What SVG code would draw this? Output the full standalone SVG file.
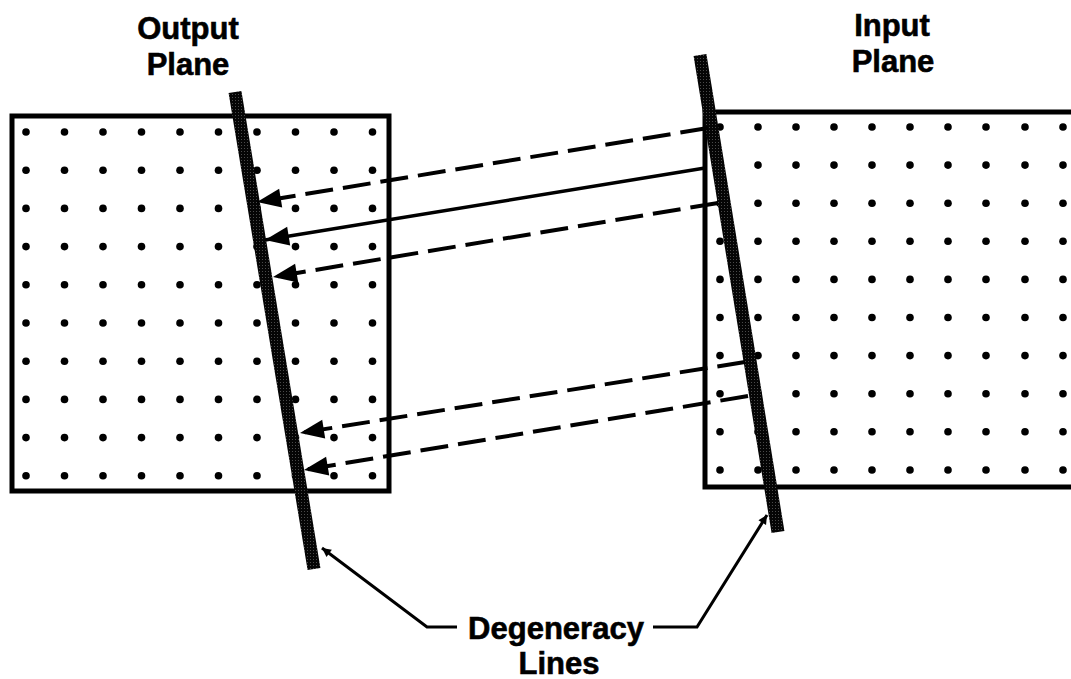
<svg xmlns="http://www.w3.org/2000/svg" width="1071" height="679" viewBox="0 0 1071 679">
<style>
  .frame { fill: none; stroke: #000; stroke-width: 5; }
  .dot { fill: #000; }
  .lbl { font-family: "Liberation Sans", Arial, sans-serif; font-weight: bold; font-size: 31px; fill: #000; text-anchor: middle; stroke: #000; stroke-width: 0.6; }
  .ray { fill: none; stroke: #000; stroke-width: 4; marker-end: url(#ah); }
  .dash { stroke-dasharray: 28 10; }
  .solid { stroke-width: 3.5; }
  .deg { fill: none; stroke: url(#stip); stroke-width: 13; stroke-linecap: butt; }
  .lead { fill: none; stroke: #000; stroke-width: 3; }
</style>
<defs>
  <pattern id="stip" width="3" height="3" patternUnits="userSpaceOnUse">
    <rect width="3" height="3" fill="#050505"/>
    <rect x="1" y="1" width="1" height="1" fill="#4a4a4a"/>
  </pattern>
  <marker id="ah" viewBox="-25 -11 26 22" refX="0" refY="0" markerWidth="26" markerHeight="22" markerUnits="userSpaceOnUse" orient="auto">
    <path d="M0,0 L-24,-9.5 L-24,9.5 z" fill="#000"/>
  </marker>
  <marker id="sh" viewBox="-10 -6 11 12" refX="0" refY="0" markerWidth="11" markerHeight="12" markerUnits="userSpaceOnUse" orient="auto">
    <path d="M0,0 L-9,-4.5 L-9,4.5 z" fill="#000"/>
  </marker>
</defs>
<rect width="1071" height="679" fill="#fff"/>

<g id="output-plane">
  <rect class="frame" x="12" y="116" width="377" height="375"/>
  <g id="output-dots">
    <circle class="dot" cx="26" cy="132" r="3.8"/><circle class="dot" cx="64.5" cy="132" r="3.8"/><circle class="dot" cx="103" cy="132" r="3.8"/><circle class="dot" cx="141.5" cy="132" r="3.8"/><circle class="dot" cx="180" cy="132" r="3.8"/><circle class="dot" cx="218.5" cy="132" r="3.8"/><circle class="dot" cx="257" cy="132" r="3.8"/><circle class="dot" cx="295.5" cy="132" r="3.8"/><circle class="dot" cx="334" cy="132" r="3.8"/><circle class="dot" cx="372.5" cy="132" r="3.8"/>
    <circle class="dot" cx="26" cy="170.2" r="3.8"/><circle class="dot" cx="64.5" cy="170.2" r="3.8"/><circle class="dot" cx="103" cy="170.2" r="3.8"/><circle class="dot" cx="141.5" cy="170.2" r="3.8"/><circle class="dot" cx="180" cy="170.2" r="3.8"/><circle class="dot" cx="218.5" cy="170.2" r="3.8"/><circle class="dot" cx="257" cy="170.2" r="3.8"/><circle class="dot" cx="295.5" cy="170.2" r="3.8"/><circle class="dot" cx="334" cy="170.2" r="3.8"/><circle class="dot" cx="372.5" cy="170.2" r="3.8"/>
    <circle class="dot" cx="26" cy="208.4" r="3.8"/><circle class="dot" cx="64.5" cy="208.4" r="3.8"/><circle class="dot" cx="103" cy="208.4" r="3.8"/><circle class="dot" cx="141.5" cy="208.4" r="3.8"/><circle class="dot" cx="180" cy="208.4" r="3.8"/><circle class="dot" cx="218.5" cy="208.4" r="3.8"/><circle class="dot" cx="257" cy="208.4" r="3.8"/><circle class="dot" cx="295.5" cy="208.4" r="3.8"/><circle class="dot" cx="334" cy="208.4" r="3.8"/><circle class="dot" cx="372.5" cy="208.4" r="3.8"/>
    <circle class="dot" cx="26" cy="246.6" r="3.8"/><circle class="dot" cx="64.5" cy="246.6" r="3.8"/><circle class="dot" cx="103" cy="246.6" r="3.8"/><circle class="dot" cx="141.5" cy="246.6" r="3.8"/><circle class="dot" cx="180" cy="246.6" r="3.8"/><circle class="dot" cx="218.5" cy="246.6" r="3.8"/><circle class="dot" cx="257" cy="246.6" r="3.8"/><circle class="dot" cx="295.5" cy="246.6" r="3.8"/><circle class="dot" cx="334" cy="246.6" r="3.8"/><circle class="dot" cx="372.5" cy="246.6" r="3.8"/>
    <circle class="dot" cx="26" cy="284.8" r="3.8"/><circle class="dot" cx="64.5" cy="284.8" r="3.8"/><circle class="dot" cx="103" cy="284.8" r="3.8"/><circle class="dot" cx="141.5" cy="284.8" r="3.8"/><circle class="dot" cx="180" cy="284.8" r="3.8"/><circle class="dot" cx="218.5" cy="284.8" r="3.8"/><circle class="dot" cx="257" cy="284.8" r="3.8"/><circle class="dot" cx="295.5" cy="284.8" r="3.8"/><circle class="dot" cx="334" cy="284.8" r="3.8"/><circle class="dot" cx="372.5" cy="284.8" r="3.8"/>
    <circle class="dot" cx="26" cy="323" r="3.8"/><circle class="dot" cx="64.5" cy="323" r="3.8"/><circle class="dot" cx="103" cy="323" r="3.8"/><circle class="dot" cx="141.5" cy="323" r="3.8"/><circle class="dot" cx="180" cy="323" r="3.8"/><circle class="dot" cx="218.5" cy="323" r="3.8"/><circle class="dot" cx="257" cy="323" r="3.8"/><circle class="dot" cx="295.5" cy="323" r="3.8"/><circle class="dot" cx="334" cy="323" r="3.8"/><circle class="dot" cx="372.5" cy="323" r="3.8"/>
    <circle class="dot" cx="26" cy="361.2" r="3.8"/><circle class="dot" cx="64.5" cy="361.2" r="3.8"/><circle class="dot" cx="103" cy="361.2" r="3.8"/><circle class="dot" cx="141.5" cy="361.2" r="3.8"/><circle class="dot" cx="180" cy="361.2" r="3.8"/><circle class="dot" cx="218.5" cy="361.2" r="3.8"/><circle class="dot" cx="257" cy="361.2" r="3.8"/><circle class="dot" cx="295.5" cy="361.2" r="3.8"/><circle class="dot" cx="334" cy="361.2" r="3.8"/><circle class="dot" cx="372.5" cy="361.2" r="3.8"/>
    <circle class="dot" cx="26" cy="399.4" r="3.8"/><circle class="dot" cx="64.5" cy="399.4" r="3.8"/><circle class="dot" cx="103" cy="399.4" r="3.8"/><circle class="dot" cx="141.5" cy="399.4" r="3.8"/><circle class="dot" cx="180" cy="399.4" r="3.8"/><circle class="dot" cx="218.5" cy="399.4" r="3.8"/><circle class="dot" cx="257" cy="399.4" r="3.8"/><circle class="dot" cx="295.5" cy="399.4" r="3.8"/><circle class="dot" cx="334" cy="399.4" r="3.8"/><circle class="dot" cx="372.5" cy="399.4" r="3.8"/>
    <circle class="dot" cx="26" cy="437.6" r="3.8"/><circle class="dot" cx="64.5" cy="437.6" r="3.8"/><circle class="dot" cx="103" cy="437.6" r="3.8"/><circle class="dot" cx="141.5" cy="437.6" r="3.8"/><circle class="dot" cx="180" cy="437.6" r="3.8"/><circle class="dot" cx="218.5" cy="437.6" r="3.8"/><circle class="dot" cx="257" cy="437.6" r="3.8"/><circle class="dot" cx="295.5" cy="437.6" r="3.8"/><circle class="dot" cx="334" cy="437.6" r="3.8"/><circle class="dot" cx="372.5" cy="437.6" r="3.8"/>
    <circle class="dot" cx="26" cy="475.8" r="3.8"/><circle class="dot" cx="64.5" cy="475.8" r="3.8"/><circle class="dot" cx="103" cy="475.8" r="3.8"/><circle class="dot" cx="141.5" cy="475.8" r="3.8"/><circle class="dot" cx="180" cy="475.8" r="3.8"/><circle class="dot" cx="218.5" cy="475.8" r="3.8"/><circle class="dot" cx="257" cy="475.8" r="3.8"/><circle class="dot" cx="295.5" cy="475.8" r="3.8"/><circle class="dot" cx="334" cy="475.8" r="3.8"/><circle class="dot" cx="372.5" cy="475.8" r="3.8"/>
  </g>
  <text class="lbl" x="188" y="39">Output</text>
  <text class="lbl" x="188" y="75">Plane</text>
</g>

<g id="input-plane">
  <path class="frame" d="M1080,112 H705 V487 H1080"/>
  <g id="input-dots">
    <circle class="dot" cx="720" cy="127" r="3.8"/><circle class="dot" cx="758" cy="127" r="3.8"/><circle class="dot" cx="796" cy="127" r="3.8"/><circle class="dot" cx="834" cy="127" r="3.8"/><circle class="dot" cx="872" cy="127" r="3.8"/><circle class="dot" cx="910" cy="127" r="3.8"/><circle class="dot" cx="948" cy="127" r="3.8"/><circle class="dot" cx="986" cy="127" r="3.8"/><circle class="dot" cx="1025" cy="127" r="3.8"/><circle class="dot" cx="1063" cy="127" r="3.8"/>
    <circle class="dot" cx="720" cy="165.1" r="3.8"/><circle class="dot" cx="758" cy="165.1" r="3.8"/><circle class="dot" cx="796" cy="165.1" r="3.8"/><circle class="dot" cx="834" cy="165.1" r="3.8"/><circle class="dot" cx="872" cy="165.1" r="3.8"/><circle class="dot" cx="910" cy="165.1" r="3.8"/><circle class="dot" cx="948" cy="165.1" r="3.8"/><circle class="dot" cx="986" cy="165.1" r="3.8"/><circle class="dot" cx="1025" cy="165.1" r="3.8"/><circle class="dot" cx="1063" cy="165.1" r="3.8"/>
    <circle class="dot" cx="720" cy="203.2" r="3.8"/><circle class="dot" cx="758" cy="203.2" r="3.8"/><circle class="dot" cx="796" cy="203.2" r="3.8"/><circle class="dot" cx="834" cy="203.2" r="3.8"/><circle class="dot" cx="872" cy="203.2" r="3.8"/><circle class="dot" cx="910" cy="203.2" r="3.8"/><circle class="dot" cx="948" cy="203.2" r="3.8"/><circle class="dot" cx="986" cy="203.2" r="3.8"/><circle class="dot" cx="1025" cy="203.2" r="3.8"/><circle class="dot" cx="1063" cy="203.2" r="3.8"/>
    <circle class="dot" cx="720" cy="241.3" r="3.8"/><circle class="dot" cx="758" cy="241.3" r="3.8"/><circle class="dot" cx="796" cy="241.3" r="3.8"/><circle class="dot" cx="834" cy="241.3" r="3.8"/><circle class="dot" cx="872" cy="241.3" r="3.8"/><circle class="dot" cx="910" cy="241.3" r="3.8"/><circle class="dot" cx="948" cy="241.3" r="3.8"/><circle class="dot" cx="986" cy="241.3" r="3.8"/><circle class="dot" cx="1025" cy="241.3" r="3.8"/><circle class="dot" cx="1063" cy="241.3" r="3.8"/>
    <circle class="dot" cx="720" cy="279.4" r="3.8"/><circle class="dot" cx="758" cy="279.4" r="3.8"/><circle class="dot" cx="796" cy="279.4" r="3.8"/><circle class="dot" cx="834" cy="279.4" r="3.8"/><circle class="dot" cx="872" cy="279.4" r="3.8"/><circle class="dot" cx="910" cy="279.4" r="3.8"/><circle class="dot" cx="948" cy="279.4" r="3.8"/><circle class="dot" cx="986" cy="279.4" r="3.8"/><circle class="dot" cx="1025" cy="279.4" r="3.8"/><circle class="dot" cx="1063" cy="279.4" r="3.8"/>
    <circle class="dot" cx="720" cy="317.5" r="3.8"/><circle class="dot" cx="758" cy="317.5" r="3.8"/><circle class="dot" cx="796" cy="317.5" r="3.8"/><circle class="dot" cx="834" cy="317.5" r="3.8"/><circle class="dot" cx="872" cy="317.5" r="3.8"/><circle class="dot" cx="910" cy="317.5" r="3.8"/><circle class="dot" cx="948" cy="317.5" r="3.8"/><circle class="dot" cx="986" cy="317.5" r="3.8"/><circle class="dot" cx="1025" cy="317.5" r="3.8"/><circle class="dot" cx="1063" cy="317.5" r="3.8"/>
    <circle class="dot" cx="720" cy="355.6" r="3.8"/><circle class="dot" cx="758" cy="355.6" r="3.8"/><circle class="dot" cx="796" cy="355.6" r="3.8"/><circle class="dot" cx="834" cy="355.6" r="3.8"/><circle class="dot" cx="872" cy="355.6" r="3.8"/><circle class="dot" cx="910" cy="355.6" r="3.8"/><circle class="dot" cx="948" cy="355.6" r="3.8"/><circle class="dot" cx="986" cy="355.6" r="3.8"/><circle class="dot" cx="1025" cy="355.6" r="3.8"/><circle class="dot" cx="1063" cy="355.6" r="3.8"/>
    <circle class="dot" cx="720" cy="393.7" r="3.8"/><circle class="dot" cx="758" cy="393.7" r="3.8"/><circle class="dot" cx="796" cy="393.7" r="3.8"/><circle class="dot" cx="834" cy="393.7" r="3.8"/><circle class="dot" cx="872" cy="393.7" r="3.8"/><circle class="dot" cx="910" cy="393.7" r="3.8"/><circle class="dot" cx="948" cy="393.7" r="3.8"/><circle class="dot" cx="986" cy="393.7" r="3.8"/><circle class="dot" cx="1025" cy="393.7" r="3.8"/><circle class="dot" cx="1063" cy="393.7" r="3.8"/>
    <circle class="dot" cx="720" cy="431.8" r="3.8"/><circle class="dot" cx="758" cy="431.8" r="3.8"/><circle class="dot" cx="796" cy="431.8" r="3.8"/><circle class="dot" cx="834" cy="431.8" r="3.8"/><circle class="dot" cx="872" cy="431.8" r="3.8"/><circle class="dot" cx="910" cy="431.8" r="3.8"/><circle class="dot" cx="948" cy="431.8" r="3.8"/><circle class="dot" cx="986" cy="431.8" r="3.8"/><circle class="dot" cx="1025" cy="431.8" r="3.8"/><circle class="dot" cx="1063" cy="431.8" r="3.8"/>
    <circle class="dot" cx="720" cy="470" r="3.8"/><circle class="dot" cx="758" cy="470" r="3.8"/><circle class="dot" cx="796" cy="470" r="3.8"/><circle class="dot" cx="834" cy="470" r="3.8"/><circle class="dot" cx="872" cy="470" r="3.8"/><circle class="dot" cx="910" cy="470" r="3.8"/><circle class="dot" cx="948" cy="470" r="3.8"/><circle class="dot" cx="986" cy="470" r="3.8"/><circle class="dot" cx="1025" cy="470" r="3.8"/><circle class="dot" cx="1063" cy="470" r="3.8"/>
  </g>
  <text class="lbl" x="892" y="36">Input</text>
  <text class="lbl" x="893" y="72">Plane</text>
</g>

<g id="degeneracy-lines">
  <line class="deg" x1="235" y1="92" x2="314" y2="569"/>
  <line class="deg" x1="700" y1="55" x2="778" y2="532"/>
</g>

<g id="connectors">
  <line class="ray dash" x1="708" y1="128" x2="257" y2="202"/>
  <line class="ray solid" x1="705" y1="168" x2="265" y2="240"/>
  <line class="ray dash" x1="718" y1="203" x2="273" y2="277"/>
  <line class="ray dash" x1="745" y1="362" x2="300" y2="433"/>
  <line class="ray dash" x1="748" y1="396" x2="304" y2="470"/>
  <polyline class="lead" points="457,627 427,627 322,548" marker-end="url(#sh)"/>
  <polyline class="lead" points="653,627 697,627 767,515" marker-end="url(#sh)"/>
</g>

<g id="caption">
  <text class="lbl" x="556" y="639">Degeneracy</text>
  <text class="lbl" x="559" y="674">Lines</text>
</g>
</svg>
